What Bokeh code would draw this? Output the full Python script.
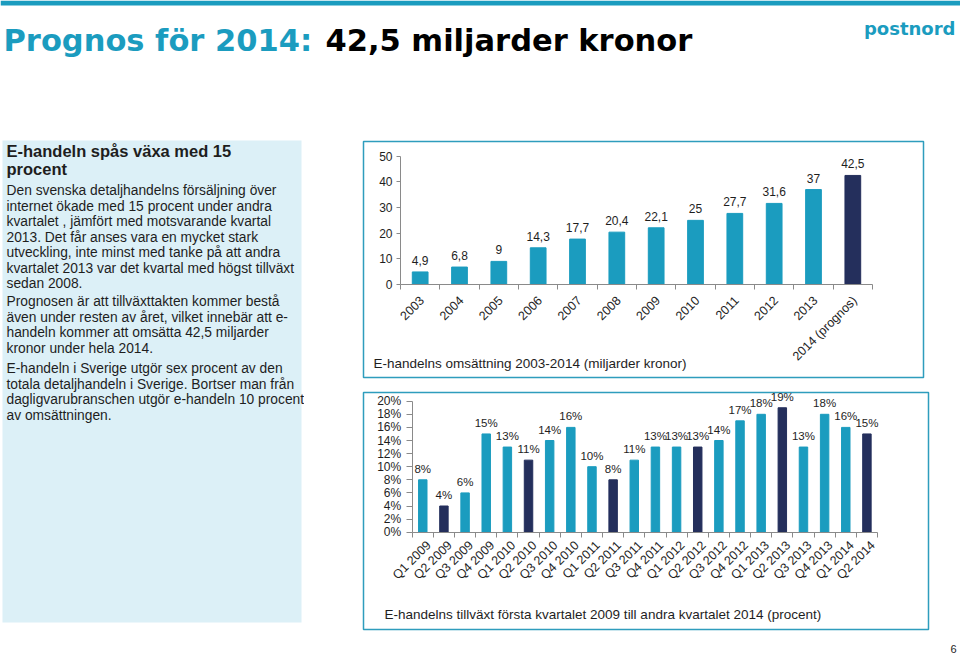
import math
from bokeh.plotting import figure
from bokeh.layouts import column, row
from bokeh.models import Range1d, FixedTicker, Label, LabelSet, ColumnDataSource, Spacer
from bokeh.core.properties import value
from bokeh.embed import file_html
from bokeh.resources import INLINE

# ---------------- data ----------------
years = ["2003", "2004", "2005", "2006", "2007", "2008", "2009", "2010",
         "2011", "2012", "2013", "2014 (prognos)"]
revenue = [4.9, 6.8, 9, 14.3, 17.7, 20.4, 22.1, 25, 27.7, 31.6, 37, 42.5]
revenue_ticks = [0, 10, 20, 30, 40, 50]
revenue_tick_labels = ["0", "10", "20", "30", "40", "50"]

quarters = ["Q1 2009", "Q2 2009", "Q3 2009", "Q4 2009",
            "Q1 2010", "Q2 2010", "Q3 2010", "Q4 2010",
            "Q1 2011", "Q2 2011", "Q3 2011", "Q4 2011",
            "Q1 2012", "Q2 2012", "Q3 2012", "Q4 2012",
            "Q1 2013", "Q2 2013", "Q3 2013", "Q4 2013",
            "Q1 2014", "Q2 2014"]
growth = [8, 4, 6, 15, 13, 11, 14, 16, 10, 8, 11, 13, 13, 13, 14, 17, 18, 19, 13, 18, 16, 15]
growth_ticks = [0, 2, 4, 6, 8, 10, 12, 14, 16, 18, 20]
growth_tick_labels = ["0%", "2%", "4%", "6%", "8%", "10%", "12%", "14%", "16%", "18%", "20%"]

title_part1 = "Prognos för 2014:"
title_part2 = "42,5 miljarder kronor"
logo_text = "postnord"
panel_heading = ["E-handeln spås växa med 15", "procent"]
panel_paragraphs = [
    ["Den svenska detaljhandelns försäljning över",
     "internet ökade med 15 procent under andra",
     "kvartalet , jämfört med motsvarande kvartal",
     "2013. Det får anses vara en mycket stark",
     "utveckling, inte minst med tanke på att andra",
     "kvartalet 2013 var det kvartal med högst tillväxt",
     "sedan 2008."],
    ["Prognosen är att tillväxttakten kommer bestå",
     "även under resten av året, vilket innebär att e-",
     "handeln kommer att omsätta 42,5 miljarder",
     "kronor under hela 2014."],
    ["E-handeln i Sverige utgör sex procent av den",
     "totala detaljhandeln i Sverige. Bortser man från",
     "dagligvarubranschen utgör e-handeln 10 procent",
     "av omsättningen."],
]
caption_top = "E-handelns omsättning 2003-2014 (miljarder kronor)"
caption_bottom = "E-handelns tillväxt första kvartalet 2009 till andra kvartalet 2014 (procent)"
page_number = "6"

# ---------------- style ----------------
TEAL = "#1b9cbf"
NAVY = "#242f5c"
BORDER = "#2e9dbd"
PANEL = "#dcf0f7"
AXIS = "#8a8a8a"
TXT = "#1e1e1e"
FONT = "Liberation Sans"


def deco_fig(w, h, x0, x1, y0, y1):
    p = figure(width=w, height=h, x_range=Range1d(x0, x1), y_range=Range1d(y1, y0),
               output_backend="svg", toolbar_location=None,
               x_axis_type=None, y_axis_type=None, min_border=0)
    p.outline_line_color = None
    p.grid.visible = False
    p.background_fill_color = "white"
    p.border_fill_color = "white"
    return p


def fmt(v):
    if float(v).is_integer():
        return str(int(v))
    return str(v).replace(".", ",")


def bar_chart(cats, vals, colors, labels, yticks, ytick_labels, box, axis_px,
              caption, cap_px, xfs, yfs, vfs, voff, ytick_out, ystand, xstand, xshift_px):
    """box: (left, top, right, bottom) of the framed box in page pixels.
    axis_px: page pixel positions of (x=0, x=n, y=min, y=max)."""
    n = len(cats)
    xs = [i + 0.5 for i in range(n)]
    bl, bt, br, bb = box
    x0p, x1p, y0p, y1p = axis_px
    ymin, ymax = yticks[0], yticks[-1]
    kx = (x1p - x0p) / n
    ky = (y0p - y1p) / (ymax - ymin)
    x_start = (bl - x0p) / kx
    x_end = n + (br - x1p) / kx
    y_end = ymax + (y1p - bt) / ky
    y_start = ymin - (bb - y0p) / ky
    p = figure(width=br - bl + 4, height=bb - bt + 4,
               x_range=Range1d(x_start, x_end), y_range=Range1d(y_start, y_end),
               output_backend="svg", toolbar_location=None, min_border=2)
    p.outline_line_color = BORDER
    p.outline_line_width = 1.5
    p.grid.visible = False
    p.background_fill_color = "white"
    p.border_fill_color = "white"
    src = ColumnDataSource(dict(x=xs, top=vals, color=colors, lab=labels))
    p.vbar(x="x", top="top", width=0.4, color="color", source=src)
    p.add_layout(LabelSet(x="x", y="top", text="lab", source=src, y_offset=voff,
                          text_align="center", text_baseline="bottom",
                          text_font=value(FONT), text_font_size=vfs, text_color=TXT))
    ya = p.yaxis[0]
    ya.fixed_location = 0
    ya.bounds = (ymin, ymax)
    ya.ticker = FixedTicker(ticks=yticks)
    ya.major_label_overrides = {t: l for t, l in zip(yticks, ytick_labels)}
    ya.axis_line_color = AXIS
    ya.major_tick_line_color = AXIS
    ya.major_tick_in = 0
    ya.major_tick_out = ytick_out
    ya.minor_tick_line_color = None
    ya.major_label_standoff = ystand
    ya.major_label_text_font = FONT
    ya.major_label_text_font_size = yfs
    ya.major_label_text_color = TXT
    # category labels sit at the category centres (slightly nudged right like the original)
    lab_pos = [x + xshift_px / kx for x in xs]
    xa = p.xaxis[0]
    xa.fixed_location = ymin
    xa.bounds = (0, n)
    xa.ticker = FixedTicker(ticks=lab_pos, minor_ticks=list(range(n + 1)))
    xa.major_label_overrides = {x: c for x, c in zip(lab_pos, cats)}
    xa.axis_line_color = AXIS
    xa.major_tick_line_color = None
    xa.minor_tick_line_color = AXIS
    xa.minor_tick_in = 0
    xa.minor_tick_out = 5
    xa.major_label_orientation = math.pi / 4
    xa.major_label_standoff = xstand
    xa.major_label_text_font = FONT
    xa.major_label_text_font_size = xfs
    xa.major_label_text_color = TXT
    cx = (cap_px[0] - x0p) / kx
    cy = ymin - (cap_px[1] - y0p) / ky
    p.add_layout(Label(x=cx, y=cy, text=caption, text_align="left", text_baseline="middle",
                       text_font=FONT, text_font_size="13.5px", text_color=TXT))
    return p


# ---------------- header ----------------
header = deco_fig(960, 130, 0, 960, 0, 130)
header.quad(left=[0], right=[960], top=[0], bottom=[5], color=TEAL, line_color=None)
header.text(x=[3], y=[40], text=[title_part1], text_font=value("DejaVu Sans"),
            text_font_style="bold", text_font_size="30.5px", text_color=TEAL,
            text_baseline="middle", text_align="left")
header.text(x=[325], y=[40], text=[title_part2], text_font=value("DejaVu Sans"),
            text_font_style="bold", text_font_size="30.5px", text_color="#000000",
            text_baseline="middle", text_align="left")
header.text(x=[955], y=[28], text=[logo_text], text_font=value("DejaVu Sans"),
            text_font_style="bold", text_font_size="18px", text_color=TEAL,
            text_baseline="middle", text_align="right")

# ---------------- left panel ----------------
panel = deco_fig(304, 524, 0, 304, 130, 654)
panel.quad(left=[2], right=[301], top=[140], bottom=[622], color=PANEL, line_color=None)
panel.text(x=[6, 6], y=[150, 168], text=panel_heading, text_font=value(FONT),
           text_font_style="bold", text_font_size="16.5px", text_color=TXT,
           text_baseline="middle", text_align="left")
para_starts = [190, 301, 368]
xs_t, ys_t, ts_t = [], [], []
for start, lines in zip(para_starts, panel_paragraphs):
    for i, ln in enumerate(lines):
        xs_t.append(6)
        ys_t.append(start + i * 15.5)
        ts_t.append(ln)
panel.text(x=xs_t, y=ys_t, text=ts_t, text_font=value(FONT), text_font_size="13.8px",
           text_color=TXT, text_baseline="middle", text_align="left")

# ---------------- charts ----------------
rev_colors = [NAVY if "prognos" in y else TEAL for y in years]
top_chart = bar_chart(years, revenue, rev_colors, [fmt(v) for v in revenue],
                      revenue_ticks, revenue_tick_labels,
                      (363, 141, 923, 377), (400, 872, 284, 155.7),
                      caption_top, (373, 363), "12.5px", "12px", "12px", 7, 4, 4, 8, 2)

gr_colors = [NAVY if q.startswith("Q2") else TEAL for q in quarters]
bottom_chart = bar_chart(quarters, growth, gr_colors, [f"{g}%" for g in growth],
                         growth_ticks, growth_tick_labels,
                         (363, 392, 928, 629), (411.7, 877, 531.7, 400.7),
                         caption_bottom, (384, 614), "12.5px", "12px", "11.5px", 5, 6, 5, 5, 6)

strip = deco_fig(30, 524, 930, 960, 130, 654)
strip.text(x=[956], y=[648], text=[page_number], text_font=value(FONT),
           text_font_size="11px", text_color=TXT, text_baseline="middle", text_align="right")

right_col = column(Spacer(width=569, height=9), top_chart, Spacer(width=569, height=11),
                   bottom_chart, Spacer(width=569, height=23))
layout = column(header, row(panel, Spacer(width=57, height=524), right_col, strip))

open("out.html", "w").write(file_html(layout, INLINE))
